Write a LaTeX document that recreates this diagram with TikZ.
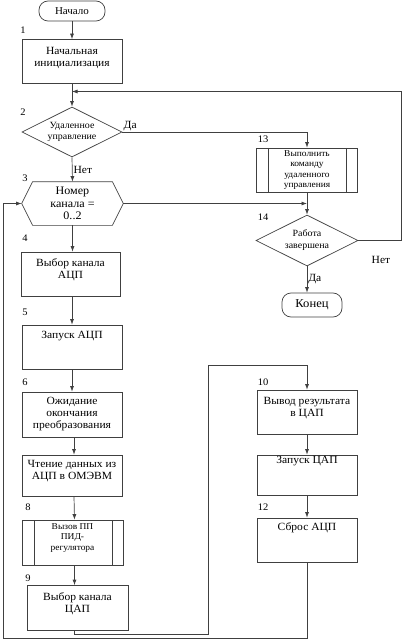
\documentclass[tikz,border=0pt]{standalone}
\usepackage{fontspec}
\setmainfont[FakeStretch=1.05]{Liberation Serif}
\usetikzlibrary{shapes.geometric,arrows.meta}
\tikzset{%
  blk/.style={draw, rectangle, minimum width=100, minimum height=44, inner sep=1pt, align=center, font=\fontsize{11}{12}\selectfont},%
  blktop/.style={blk, text depth=24pt},%
  subr/.style={blk, path picture={%
      \draw ([xshift=12]path picture bounding box.north west) -- ([xshift=12]path picture bounding box.south west);%
      \draw ([xshift=-11]path picture bounding box.north east) -- ([xshift=-11]path picture bounding box.south east);}},%
  cond/.style={draw, diamond, aspect=2, minimum width=100, minimum height=50, inner sep=0pt, align=center},%
  term/.style={draw, rectangle, rounded corners=9pt, minimum width=66, minimum height=20, inner sep=1pt, font=\fontsize{10.5}{12}\selectfont},%
  num/.style={inner sep=0pt, font=\fontsize{10}{11}\selectfont},%
  yn/.style={inner sep=1pt, font=\fontsize{11}{12}\selectfont},%
  flow/.style={->},%
}
\begin{document}
\begin{tikzpicture}[x=1pt,y=-1pt, line width=0.7pt, color=black!75, text=black, >={Latex[length=5.5pt,width=4pt]}]%
\useasboundingbox (0,0) rectangle (402,639);%
% left column
\node[term] (start) at (72,11) {Начало};%
\node[num] (n1) at (23,30) {1};%
\node[blk, text depth=10pt] (b1) at (72,61.5) {Начальная\\инициализация};%
\node[num] (n2) at (23,112) {2};%
\node[cond, font=\fontsize{9.5}{10.5}\selectfont] (d2) at (72,132) {Удаленное\\управление};%
\node[num] (n3) at (25,178) {3};%
\node[minimum width=101, minimum height=43, inner sep=0pt, align=center, font=\fontsize{11.5}{12.5}\selectfont] (h3) at (72.5,203.5) {Номер\\канала =\\0..2};%
\draw (h3.west) -- ([xshift=11]h3.north west) -- ([xshift=-11]h3.north east) -- (h3.east) -- ([xshift=-11]h3.south east) -- ([xshift=11]h3.south west) -- cycle;%
\node[num] (n4) at (25,238) {4};%
\node[blk, minimum width=99, text depth=10pt] (b4) at (70.5,274) {Выбор канала\\АЦП};%
\node[num] (n5) at (25,312) {5};%
\node[blktop] (b5) at (72,347) {Запуск АЦП};%
\node[num] (n6) at (25,382) {6};%
\node[blk, minimum height=45] (b6) at (72,414.5) {Ожидание\\окончания\\преобразования};%
\node[blk, minimum height=41, text depth=12pt] (b7) at (72,475.5) {Чтение данных из\\АЦП в ОМЭВМ};%
\node[num] (n8) at (28,507) {8};%
\node[subr, minimum width=101, minimum height=45, text depth=11pt, font=\fontsize{9}{10.5}\selectfont] (b8) at (72.5,542.5) {Вызов ПП\\ПИД-\\регулятора};%
\node[num] (n9) at (28,578) {9};%
\node[blk, minimum width=101, minimum height=45, text depth=11pt] (b9) at (77.5,608) {Выбор канала\\ЦАП};%
% right column
\node[num] (n13) at (263,139) {13};%
\node[subr, minimum width=101, font=\fontsize{9}{10.5}\selectfont] (b13) at (307,170) {Выполнить\\команду\\удаленного\\управления};%
\node[num] (n14) at (263,217) {14};%
\node[cond, minimum width=102, minimum height=51, font=\fontsize{9.5}{12}\selectfont] (d14) at (307,240.5) {Работа\\завершена};%
\node[term, minimum width=60, minimum height=24, font=\fontsize{12}{13}\selectfont] (end) at (312,305) {Конец};%
\node[num] (n10) at (263,382) {10};%
\node[blk, text depth=11pt] (b10) at (307,412) {Вывод результата\\в ЦАП};%
\node[blktop, minimum height=40, text depth=30pt] (b11) at (307,475) {Запуск ЦАП};%
\node[num] (n12) at (263,507) {12};%
\node[blktop, text depth=26pt] (b12) at (307,540) {Сброс АЦП};%
% turn points
\coordinate (lp) at (401,91.5);%
\coordinate (j2) at (b13.south |- h3.east);%
\coordinate (c1) at (208,634);%
\coordinate (c2) at (208,365);%
\coordinate (c3) at (3,638);%
% connectors
\draw[flow] (start) -- (b1);%
\draw[flow] (b1) -- (d2);%
\draw[flow] (d14.east) -| (lp) -- (b1.south |- lp);%
\draw[flow] (d2.east) -| (b13.north) node[pos=0, above right, yn] (da2) {Да};%
\draw[flow] (d2.south) -- (h3.north) node[midway, right, yn] (net2) {Нет};%
\draw[flow] (h3.east) -- (j2);%
\draw[flow] (b13.south) -- (d14.north);%
\draw[flow] (d14.south) -- (d14.south |- end.north) node[midway, right, yn] (da14) {Да};%
\node[yn] (net14) at (381,260) {Нет};%
\draw[flow] (h3.south) -- (b4.north -| h3.south);%
\draw[flow] (b4.south -| b5.north) -- (b5.north);%
\draw[flow] (b5) -- (b6);%
\draw[flow] ([xshift=2]b6.south) -- ([xshift=2]b7.north);%
\draw[flow] ([xshift=2]b7.south) -- ([xshift=2]b8.north);%
\draw[flow] ([xshift=2]b8.south) -- ([xshift=2]b8.south |- b9.north);%
\draw[flow] ([xshift=-3]b9.south) |- (c1) -- (c2) -| (b10.north);%
\draw[flow] (b10) -- (b11);%
\draw[flow] (b11) -- (b12);%
\draw[flow] (b12.south) |- (c3) |- (h3.west);%
\end{tikzpicture}
\end{document}
